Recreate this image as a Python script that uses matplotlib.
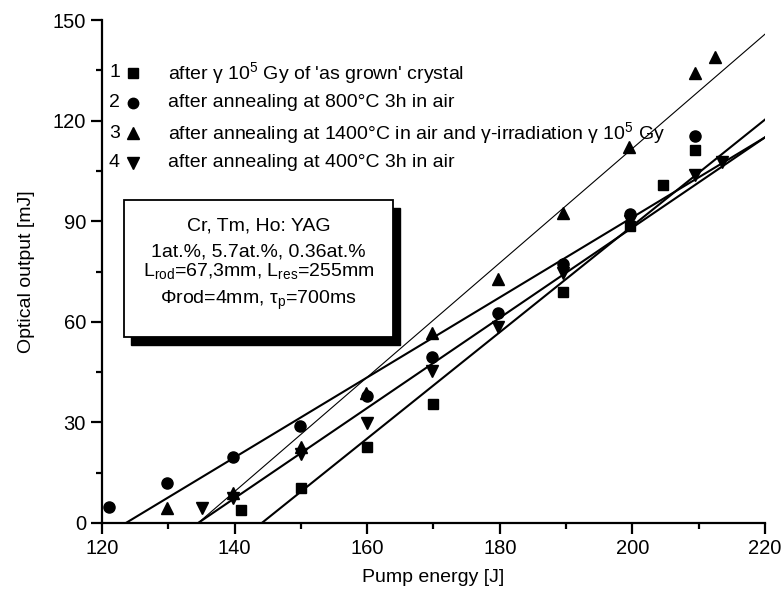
import matplotlib
matplotlib.use("Agg")
import matplotlib.pyplot as plt
from matplotlib.patches import Rectangle
from matplotlib.ticker import MultipleLocator
import numpy as np

plt.rcParams['font.family'] = ['Liberation Sans', 'DejaVu Sans']
plt.rcParams['mathtext.fontset'] = 'custom'
plt.rcParams['mathtext.rm'] = 'Liberation Sans'
plt.rcParams['mathtext.it'] = 'Liberation Sans'

# ---- data ----
x1 = [141, 150, 160, 170, 189.5, 199.6, 204.6, 209.4]
y1 = [4, 10.4, 22.7, 35.5, 68.9, 88.6, 100.8, 111.2]

x2 = [121, 129.8, 139.8, 149.9, 160, 169.8, 179.7, 189.5, 199.6, 209.4]
y2 = [4.8, 11.9, 19.7, 28.9, 37.9, 49.5, 62.6, 77.2, 92.2, 115.4]

x3 = [129.8, 139.8, 150, 159.8, 169.8, 179.7, 189.5, 199.5, 209.4, 212.5]
y3 = [4.5, 8.9, 22.7, 38.8, 56.7, 72.8, 92.5, 112, 134.2, 139]

x4 = [135.1, 139.8, 150, 160, 169.8, 179.7, 189.5, 199.6, 209.4, 213.5]
y4 = [4.5, 7.5, 20.6, 29.8, 45.3, 58.5, 74.6, 90, 103.8, 107.7]

# linear fits: x-intercept (threshold) and slope
fit_x0 = [144.1, 123.6, 134.5, 134.5]
fit_slope = [1.585, 1.193, 1.705, 1.345]
fit_lw = [1.5, 1.5, 0.8, 1.5]

labels = ["after \u03b3 10$^{5}$ Gy of 'as grown' crystal",
          "after annealing at 800\u00b0C 3h in air",
          "after annealing at 1400\u00b0C in air and \u03b3-irradiation \u03b3 10$^{5}$ Gy",
          "after annealing at 400\u00b0C 3h in air"]
numbers = ["1", "2", "3", "4"]
markers = ['s', 'o', '^', 'v']
msizes = [7, 8, 8.5, 8.5]

box_lines = ["Cr, Tm, Ho: YAG",
             "1at.%, 5.7at.%, 0.36at.%",
             "L$_{\\mathrm{rod}}$=67,3mm, L$_{\\mathrm{res}}$=255mm",
             "\u03a6rod=4mm, \u03c4$_{\\mathrm{p}}$=700ms"]

# ---- figure ----
fig = plt.figure(figsize=(7.83, 5.89), dpi=100)
ax = fig.add_axes([102/783, 1-523/589, 663/783, 503/589])

xs_all = [x1, x2, x3, x4]
ys_all = [y1, y2, y3, y4]
xmax = 220
for i in range(4):
    ax.plot(xs_all[i], ys_all[i], linestyle='none', marker=markers[i],
            ms=msizes[i], color='black', clip_on=False, zorder=3)
    xl = np.array([fit_x0[i], xmax])
    yl = fit_slope[i] * (xl - fit_x0[i])
    ax.plot(xl, yl, color='black', lw=fit_lw[i], zorder=2)

ax.set_xlim(120, 220)
ax.set_ylim(0, 150)
ax.xaxis.set_major_locator(MultipleLocator(20))
ax.xaxis.set_minor_locator(MultipleLocator(10))
ax.yaxis.set_major_locator(MultipleLocator(30))
ax.yaxis.set_minor_locator(MultipleLocator(15))
for s in ['top', 'right']:
    ax.spines[s].set_visible(False)
for s in ['left', 'bottom']:
    ax.spines[s].set_linewidth(1.6)
ax.tick_params(which='major', direction='out', length=8, width=1.6,
               labelsize=14.5, pad=3.5)
ax.tick_params(which='minor', direction='out', length=4.5, width=1.6)
ax.set_xlabel("Pump energy [J]", fontsize=14, labelpad=8)
ax.set_ylabel("Optical output [mJ]", fontsize=14, labelpad=13)

# ---- legend (manual) ----
rows_y = [0.895, 0.835, 0.775, 0.716]
for i in range(4):
    ax.text(0.027, rows_y[i], numbers[i], transform=ax.transAxes,
            fontsize=14, va='center', ha='right')
    ax.plot([0.047], [rows_y[i]], marker=markers[i], ms=msizes[i] - 0.5,
            color='black', transform=ax.transAxes, clip_on=False)
    ax.text(0.0995, rows_y[i], labels[i], transform=ax.transAxes,
            fontsize=14, va='center', ha='left')

# ---- info box with shadow ----
bx0, bx1 = (124-102)/663, (393-102)/663
by0, by1 = (523-337)/503, (523-200)/503
dx, dy = 7/663, -8/503
ax.add_patch(Rectangle((bx0 + dx, by0 + dy), bx1 - bx0, by1 - by0,
                       transform=ax.transAxes, facecolor='black',
                       edgecolor='black', zorder=4, clip_on=False))
ax.add_patch(Rectangle((bx0, by0), bx1 - bx0, by1 - by0,
                       transform=ax.transAxes, facecolor='white',
                       edgecolor='black', lw=1.3, zorder=5, clip_on=False))
box_y = [0.5825, 0.529, 0.491, 0.435]
for t, yy in zip(box_lines, box_y):
    ax.text((bx0 + bx1) / 2, yy, t, transform=ax.transAxes, fontsize=14,
            ha='center', va='baseline', zorder=6)

fig.savefig("out.png", dpi=100)
